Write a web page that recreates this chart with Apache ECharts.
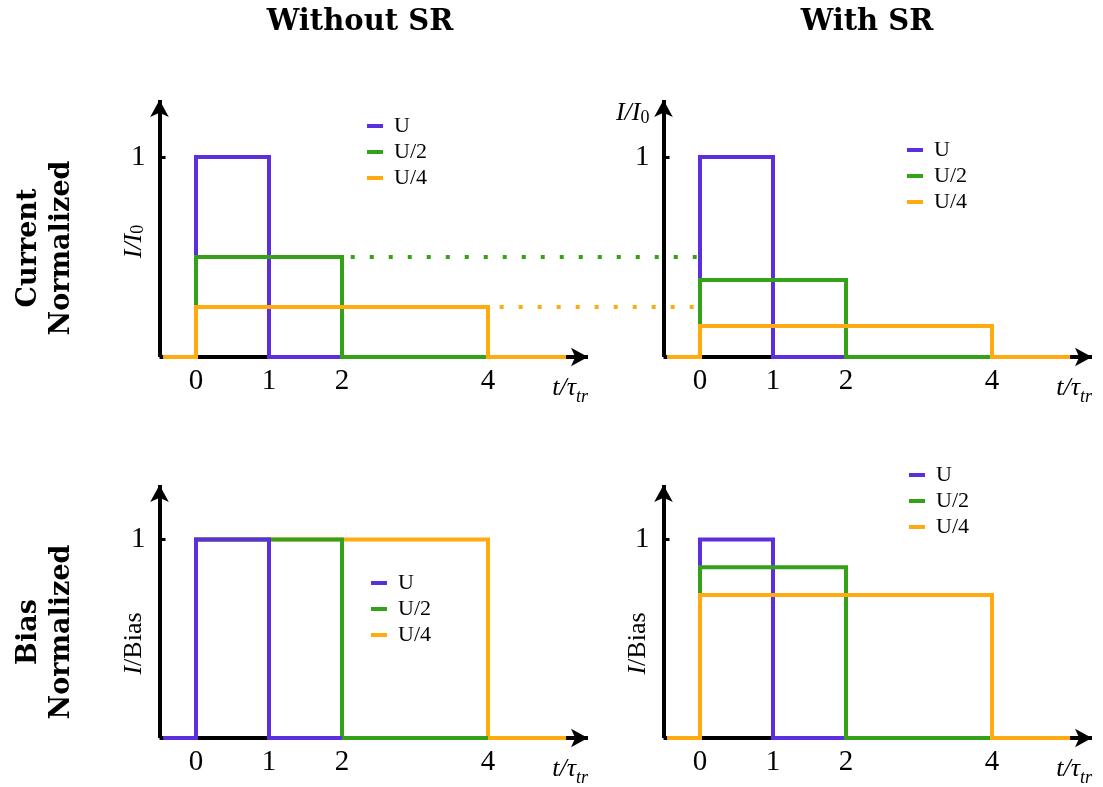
<!DOCTYPE html>
<html>
<head>
<meta charset="utf-8">
<script src="https://cdn.jsdelivr.net/npm/echarts@6/dist/echarts.min.js"></script>
<style>html,body{margin:0;padding:0;background:#fff}#c{width:1103px;height:787px}</style>
</head>
<body>
<div id="c"></div>
<script>
// ---------- data ----------
const columnTitles = ['Without SR', 'With SR'];
const rowTitles = ['Current\nNormalized', 'Bias\nNormalized'];
const seriesNames = ['U', 'U/2', 'U/4'];
const xTickValues = [0, 1, 2, 4];
const yTickValues = [1];

// Current normalized, without SR  [t/tau_tr, I/I0]
const curNoSR_U  = [[-0.45,0],[0,0],[0,1],[1,1],[1,0],[2,0]];
const curNoSR_U2 = [[0,0],[0,0.5],[2,0.5],[2,0],[4,0]];
const curNoSR_U4 = [[-0.45,0],[0,0],[0,0.25],[4,0.25],[4,0],[5.07,0]];
// Current normalized, with SR
const curSR_U  = [[-0.45,0],[0,0],[0,1],[1,1],[1,0],[2,0]];
const curSR_U2 = [[0,0],[0,0.385],[2,0.385],[2,0],[4,0]];
const curSR_U4 = [[-0.45,0],[0,0],[0,0.155],[4,0.155],[4,0],[5.07,0]];
// Bias normalized, without SR
const biasNoSR_U  = [[-0.45,0],[0,0],[0,1],[1,1],[1,0],[2,0]];
const biasNoSR_U2 = [[0,0],[0,1],[2,1],[2,0],[4,0]];
const biasNoSR_U4 = [[0,0],[0,1],[4,1],[4,0],[5.07,0]];
// Bias normalized, with SR
const biasSR_U  = [[-0.45,0],[0,0],[0,1],[1,1],[1,0],[2,0]];
const biasSR_U2 = [[0,0],[0,0.86],[2,0.86],[2,0],[4,0]];
const biasSR_U4 = [[-0.45,0],[0,0],[0,0.72],[4,0.72],[4,0],[5.07,0]];
// dotted guide lines (levels without SR carried over to the SR panel), in the t units of the left panel
const guideU2 = [[2.12,0.5],[6.9,0.5]];
const guideU4 = [[4.16,0.25],[6.9,0.25]];

// ---------- style ----------
const colors = {'U':'#5b2fdd', 'U/2':'#35a11a', 'U/4':'#ffab10'};
const SERIF = '"Liberation Serif", serif';
const BOLD = '"DejaVu Serif", serif';

const grids = [
  {left:159.5, top:100, width:428.5, height:257},
  {left:663.5, top:100, width:428.5, height:257},
  {left:159.5, top:485, width:428.5, height:256},
  {left:663.5, top:485, width:428.5, height:256},
  // hidden overlay grid for the dotted guides spanning both top panels
  {left:159.5, top:100, width:560, height:257}
];
const yMaxes = [1.285, 1.285, 1.274, 1.274];
const guideXMax = -0.5 + 560 * 5.87 / 428.5;

const xName = '{a|t/τ}{s|tr}';
const xNameStyle = {
  align:'right', verticalAlign:'top', padding:[18,0,0,0], color:'#000',
  rich:{
    a:{fontFamily:SERIF, fontStyle:'italic', fontSize:26, lineHeight:26, verticalAlign:'bottom', color:'#000'},
    s:{fontFamily:SERIF, fontStyle:'italic', fontSize:18, lineHeight:18, verticalAlign:'bottom', padding:[0,0,-5,0], color:'#000'}
  }
};
const yNameRich = {
  i:{fontFamily:SERIF, fontStyle:'italic', fontSize:26, color:'#000'},
  r:{fontFamily:SERIF, fontSize:26, color:'#000'},
  s:{fontFamily:SERIF, fontSize:18, color:'#000', padding:[9,0,0,0]}
};

const axisLineStyle = {show:true, onZero:false, symbol:['none','arrow'], symbolSize:[14,17],
  lineStyle:{color:'#000', width:4, cap:'butt'}};

const xAxes = [0,1,2,3].map(i => ({
  gridIndex:i, type:'value', min:-0.5, max:5.37,
  axisLine:axisLineStyle, axisTick:{show:false}, splitLine:{show:false},
  axisLabel:{customValues:xTickValues, fontFamily:SERIF, fontSize:29, color:'#000', margin:10},
  name:xName, nameLocation:'end', nameGap:0, nameTextStyle:xNameStyle
}));
xAxes.push({gridIndex:4, type:'value', min:-0.5, max:guideXMax, show:false});

const yNames = [
  '{i|I/I}{s|0}', '{i|I/I}{s|0}', '{i|I}{r|/Bias}', '{i|I}{r|/Bias}'
];
const yAxes = [0,1,2,3].map(i => {
  const ax = {
    gridIndex:i, type:'value', min:0, max:yMaxes[i],
    axisLine:axisLineStyle,
    axisTick:{show:true, inside:true, length:6, customValues:yTickValues, lineStyle:{color:'#000', width:3}},
    splitLine:{show:false},
    axisLabel:{customValues:yTickValues, fontFamily:SERIF, fontSize:29, color:'#000', margin:14},
    name:yNames[i], nameMoveOverlap:false
  };
  if (i === 1) {
    ax.nameLocation = 'end'; ax.nameGap = 0;
    ax.nameTextStyle = {align:'right', verticalAlign:'top', padding:[0,14,0,0], rich:yNameRich};
  } else {
    ax.nameLocation = 'middle'; ax.nameGap = 12;
    ax.nameTextStyle = {padding: i < 2 ? [0,26,0,0] : [0,64,0,0], rich:yNameRich};
  }
  return ax;
});
yAxes.push({gridIndex:4, type:'value', min:0, max:yMaxes[0], show:false});

function step(name, data, idx, z) {
  return {
    type:'line', name:name, xAxisIndex:idx, yAxisIndex:idx, data:data,
    showSymbol:false, symbol:'none', z:z, animation:false,
    lineStyle:{color:colors[name], width:4, join:'miter', cap:'butt'},
    itemStyle:{color:colors[name]}
  };
}
function guide(name, data) {
  return {
    type:'line', name:name + ' guide', xAxisIndex:4, yAxisIndex:4, data:data,
    showSymbol:false, symbol:'none', z:2, animation:false, silent:true,
    lineStyle:{color:colors[name], width:4, type:[4,15], cap:'butt'}
  };
}

const series = [
  step('U', curNoSR_U, 0, 2), step('U/2', curNoSR_U2, 0, 3), step('U/4', curNoSR_U4, 0, 4),
  guide('U/2', guideU2), guide('U/4', guideU4),
  step('U', curSR_U, 1, 2), step('U/2', curSR_U2, 1, 3), step('U/4', curSR_U4, 1, 4),
  step('U', biasNoSR_U, 2, 4), step('U/2', biasNoSR_U2, 2, 3), step('U/4', biasNoSR_U4, 2, 2),
  step('U', biasSR_U, 3, 2), step('U/2', biasSR_U2, 3, 3), step('U/4', biasSR_U4, 3, 4)
];

const legendPos = [[367,113],[907,137],[371,570],[909,462]];
const legends = legendPos.map(p => ({
  data:seriesNames, orient:'vertical', left:p[0], top:p[1], padding:0,
  icon:'rect', itemWidth:16, itemHeight:4, itemGap:0, selectedMode:false,
  textStyle:{fontFamily:SERIF, fontSize:22, color:'#000', lineHeight:26, padding:[0,0,0,6]}
}));

const option = {
  backgroundColor:'#fff',
  animation:false,
  title:[
    {text:columnTitles[0], left:355, top:3, textAlign:'center', textStyle:{fontFamily:BOLD, fontWeight:'bold', fontSize:29, color:'#000'}},
    {text:columnTitles[1], left:862, top:3, textAlign:'center', textStyle:{fontFamily:BOLD, fontWeight:'bold', fontSize:29, color:'#000'}}
  ],
  grid:grids,
  xAxis:xAxes,
  yAxis:yAxes,
  legend:legends,
  series:series,
  graphic:[
    {type:'text', x:45, y:248, rotation:Math.PI/2, style:{text:rowTitles[0], font:'bold 27px "DejaVu Serif", serif', fill:'#000', align:'center', verticalAlign:'middle', lineHeight:33}},
    {type:'text', x:45, y:632, rotation:Math.PI/2, style:{text:rowTitles[1], font:'bold 27px "DejaVu Serif", serif', fill:'#000', align:'center', verticalAlign:'middle', lineHeight:33}}
  ]
};

const chart = echarts.init(document.getElementById('c'), null, {renderer:'canvas'});
chart.setOption(option);
</script>
</body>
</html>
